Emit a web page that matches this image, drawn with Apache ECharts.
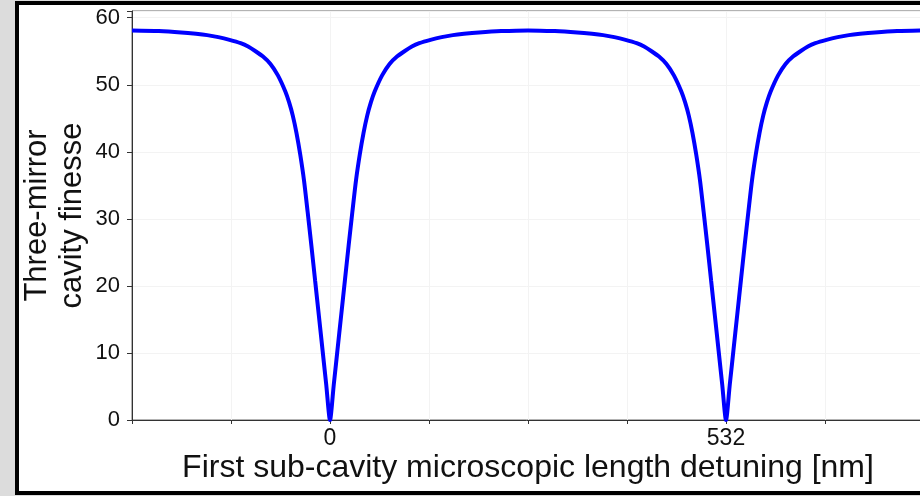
<!DOCTYPE html>
<html>
<head>
<meta charset="utf-8">
<script src="https://cdn.jsdelivr.net/npm/echarts@6/dist/echarts.min.js"></script>
<style>
  html, body { margin: 0; padding: 0; background: #dcdcdc; }
  #chart { width: 920px; height: 496px; }
</style>
</head>
<body>
<div id="chart"></div>
<script>
// Detuning of the first sub-cavity (nm) and the resulting three-mirror finesse
const detuning = [
  -266, -230, -200, -180, -165, -150, -135, -120, -110, -100, -90, -80, -70,
  -60, -55, -50, -45, -40, -35, -30, -25, -20, -15, -10, -5, 0,
  5, 10, 15, 20, 25, 30, 35, 40, 45, 50, 55, 60, 70, 80, 90, 100, 110, 120,
  135, 150, 165, 180, 200, 230, 266,
  302, 332, 352, 367, 382, 397, 412, 422, 432, 442, 452, 462, 472, 477, 482,
  487, 492, 497, 502, 507, 512, 517, 522, 527, 532,
  537, 542, 547, 552, 557, 562, 567, 572, 577, 582, 587, 592, 602, 612, 622,
  632, 642, 652, 667, 682, 697, 712, 732, 762, 798
];
const finesse = [
  58.1, 58.0, 57.8, 57.6, 57.4, 57.1, 56.7, 56.2, 55.7, 55.0, 54.2, 53.1, 51.4,
  49.0, 47.4, 45.4, 42.8, 39.6, 35.8, 31.0, 26.0, 20.8, 15.6, 10.4, 5.2, 0,
  5.2, 10.4, 15.6, 20.8, 26.0, 31.0, 35.8, 39.6, 42.8, 45.4, 47.4, 49.0, 51.4,
  53.1, 54.2, 55.0, 55.7, 56.2, 56.7, 57.1, 57.4, 57.6, 57.8, 58.0, 58.1,
  58.0, 57.8, 57.6, 57.4, 57.1, 56.7, 56.2, 55.7, 55.0, 54.2, 53.1, 51.4, 49.0,
  47.4, 45.4, 42.8, 39.6, 35.8, 31.0, 26.0, 20.8, 15.6, 10.4, 5.2, 0,
  5.2, 10.4, 15.6, 20.8, 26.0, 31.0, 35.8, 39.6, 42.8, 45.4, 47.4, 49.0, 51.4,
  53.1, 54.2, 55.0, 55.7, 56.2, 56.7, 57.1, 57.4, 57.6, 57.8, 58.0, 58.1
];
// Only these detunings carry a tick label
const labelledTicks = [0, 532];
const yTicks = [0, 10, 20, 30, 40, 50, 60];

const FONT = '"Liberation Sans", Arial, Helvetica, sans-serif';
const chart = echarts.init(document.getElementById('chart'), null, { renderer: 'canvas' });

chart.setOption({
  backgroundColor: '#dcdcdc',
  animation: false,
  graphic: [{
    type: 'rect',
    z: -10,
    shape: { x: 17, y: 3, width: 940, height: 490 },
    style: { fill: '#ffffff', stroke: '#000000', lineWidth: 4 }
  }],
  grid: {
    left: 132, top: 11, right: -4, bottom: 76,
    outerBoundsMode: 'none',
    containLabel: false,
    show: true, borderColor: '#666', borderWidth: 1, backgroundColor: '#ffffff'
  },
  xAxis: {
    type: 'value',
    min: -266, max: 798, interval: 133,
    name: 'First sub-cavity microscopic length detuning [nm]',
    nameLocation: 'middle', nameGap: 32, nameMoveOverlap: false,
    nameTextStyle: { fontFamily: FONT, fontSize: 32, color: '#111' },
    axisLine: { show: true, onZero: false, lineStyle: { color: '#333', width: 1 } },
    axisTick: { show: true, length: 4, lineStyle: { color: '#333' } },
    axisLabel: {
      fontFamily: FONT, fontSize: 23, color: '#111', margin: 7,
      showMinLabel: true, showMaxLabel: true, hideOverlap: false,
      formatter: v => labelledTicks.includes(Math.round(v)) ? String(Math.round(v)) : ''
    },
    splitLine: { show: true, lineStyle: { color: '#f3f3f3', width: 1 } }
  },
  yAxis: {
    type: 'value',
    min: 0, max: 61, interval: 10,
    name: 'Three-mirror\ncavity finesse',
    nameLocation: 'middle', nameGap: 42, nameRotate: 90, nameMoveOverlap: false,
    nameTextStyle: { fontFamily: FONT, fontSize: 31, color: '#111', lineHeight: 35 },
    axisLine: { show: true, onZero: false, lineStyle: { color: '#333', width: 1 } },
    axisTick: { show: true, length: 5, lineStyle: { color: '#333' } },
    axisLabel: {
      fontFamily: FONT, fontSize: 22, color: '#111', margin: 12,
      formatter: v => yTicks.includes(v) ? String(v) : ''
    },
    splitLine: { show: true, lineStyle: { color: '#f3f3f3', width: 1 } }
  },
  series: [{
    type: 'line',
    data: detuning.map((d, i) => [d, finesse[i]]),
    showSymbol: false,
    smooth: 0.25,
    clip: true,
    lineStyle: { color: '#0000ff', width: 4 },
    z: 5
  }]
});
</script>
</body>
</html>
